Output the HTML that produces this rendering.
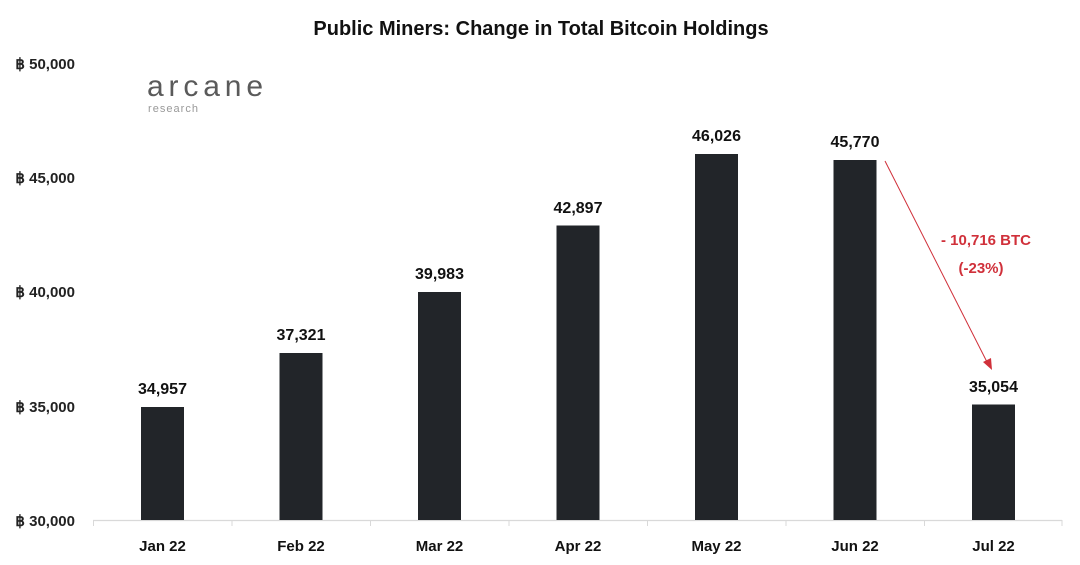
<!DOCTYPE html>
<html><head><meta charset="utf-8"><style>
html,body{margin:0;padding:0;background:#fff;}
svg{display:block;font-family:"Liberation Sans",sans-serif;}
</style></head><body>
<svg width="1080" height="565" viewBox="0 0 1080 565" xmlns="http://www.w3.org/2000/svg">
<text x="541" y="35" text-anchor="middle" font-size="20" font-weight="bold" fill="#111">Public Miners: Change in Total Bitcoin Holdings</text>
<g font-size="15" font-weight="bold" fill="#222" text-anchor="end">
<text x="75" y="69">฿ 50,000</text>
<text x="75" y="183">฿ 45,000</text>
<text x="75" y="297">฿ 40,000</text>
<text x="75" y="412">฿ 35,000</text>
<text x="75" y="526">฿ 30,000</text>
</g>
<text x="147" y="96" font-size="30" fill="#5a5a5a" textLength="116" lengthAdjust="spacing">arcane</text>
<text x="148" y="112" font-size="11" fill="#999" textLength="50" lengthAdjust="spacing">research</text>
<line x1="93" y1="520.5" x2="1062" y2="520.5" stroke="#d9d9d9" stroke-width="1.2"/>
<g stroke="#d9d9d9" stroke-width="1">
<line x1="93.5" y1="520" x2="93.5" y2="526"/><line x1="232" y1="520" x2="232" y2="526"/>
<line x1="370.5" y1="520" x2="370.5" y2="526"/><line x1="509" y1="520" x2="509" y2="526"/>
<line x1="647.5" y1="520" x2="647.5" y2="526"/><line x1="786" y1="520" x2="786" y2="526"/>
<line x1="924.5" y1="520" x2="924.5" y2="526"/><line x1="1062" y1="520" x2="1062" y2="526"/>
</g>
<g fill="#222529">
<rect x="141" y="407" width="43" height="113"/>
<rect x="279.5" y="353" width="43" height="167"/>
<rect x="418" y="292" width="43" height="228"/>
<rect x="556.5" y="225.5" width="43" height="294.5"/>
<rect x="695" y="154" width="43" height="366"/>
<rect x="833.5" y="160" width="43" height="360"/>
<rect x="972" y="404.5" width="43" height="115.5"/>
</g>
<g font-size="16" font-weight="bold" fill="#111" text-anchor="middle">
<text x="162.5" y="394">34,957</text>
<text x="301" y="340">37,321</text>
<text x="439.5" y="279">39,983</text>
<text x="578" y="213">42,897</text>
<text x="716.5" y="141">46,026</text>
<text x="855" y="147">45,770</text>
<text x="993.5" y="392">35,054</text>
</g>
<g font-size="15" font-weight="bold" fill="#111" text-anchor="middle">
<text x="162.5" y="551">Jan 22</text>
<text x="301" y="551">Feb 22</text>
<text x="439.5" y="551">Mar 22</text>
<text x="578" y="551">Apr 22</text>
<text x="716.5" y="551">May 22</text>
<text x="855" y="551">Jun 22</text>
<text x="993.5" y="551">Jul 22</text>
</g>
<line x1="885" y1="161" x2="987" y2="362" stroke="#d0303a" stroke-width="1"/>
<polygon points="992,370 983,362 991,358" fill="#d0303a"/>
<text x="986" y="245" text-anchor="middle" font-size="15" font-weight="bold" fill="#d0303a">- 10,716 BTC</text>
<text x="981" y="273" text-anchor="middle" font-size="15" font-weight="bold" fill="#d0303a">(-23%)</text>
</svg>
</body></html>
